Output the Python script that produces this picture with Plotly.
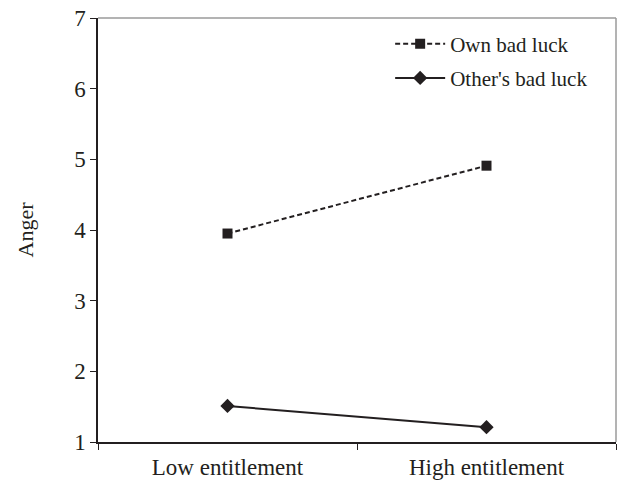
import plotly.graph_objects as go

categories = ["Low entitlement", "High entitlement"]
own_bad_luck = [3.95, 4.91]
others_bad_luck = [1.51, 1.21]
y_ticks = [1, 2, 3, 4, 5, 6, 7]

ink = "#231f20"
family = "Liberation Serif, Times New Roman, serif"
axis_font = dict(family=family, size=23, color=ink)
legend_font = dict(family=family, size=21, color=ink)

fig = go.Figure()
fig.add_trace(go.Scatter(
    x=categories, y=own_bad_luck, name="Own bad luck", mode="lines+markers",
    line=dict(color=ink, width=2, dash="5px,3px"),
    marker=dict(symbol="square", size=10, color=ink),
    legendgroup="a",
))
fig.add_trace(go.Scatter(
    x=categories, y=others_bad_luck, name="Other's bad luck", mode="lines+markers",
    line=dict(color=ink, width=2),
    marker=dict(symbol="diamond", size=11, color=ink),
    legendgroup="b",
))

fig.update_layout(
    width=617, height=484, autosize=False,
    margin=dict(l=98, r=1, t=18, b=42),
    paper_bgcolor="white", plot_bgcolor="white",
    font=axis_font,
    showlegend=True,
    legend=dict(x=0.564, y=0.987, xanchor="left", yanchor="top",
                bgcolor="rgba(0,0,0,0)", font=legend_font, tracegroupgap=4,
                itemwidth=50),
    xaxis=dict(type="category", categoryarray=categories, range=[-0.5, 1.5],
               showgrid=False, zeroline=False, showline=True, linecolor=ink, linewidth=1.5,
               ticks="outside", ticklen=6, tickcolor=ink, tickson="boundaries",
               tickfont=axis_font, ticklabelstandoff=4),
    yaxis=dict(range=[1, 7], tickvals=y_ticks, showgrid=False, zeroline=False,
               showline=True, linecolor=ink, linewidth=1.5,
               ticks="outside", ticklen=6, tickcolor=ink, tickfont=axis_font,
               title=dict(text="Anger", font=dict(family=family, size=22, color=ink),
                          standoff=34)),
    shapes=[
        dict(type="line", xref="paper", yref="paper", x0=0, x1=1, y0=1, y1=1,
             line=dict(color="#9a9a9a", width=1.5)),
        dict(type="line", xref="paper", yref="paper", x0=1, x1=1, y0=0, y1=1,
             line=dict(color="#9a9a9a", width=1.5)),
    ],
)

fig.write_html("out.html", default_width="617px", default_height="484px",
               config={"displayModeBar": False},
               post_script="document.body.style.margin='0';")
